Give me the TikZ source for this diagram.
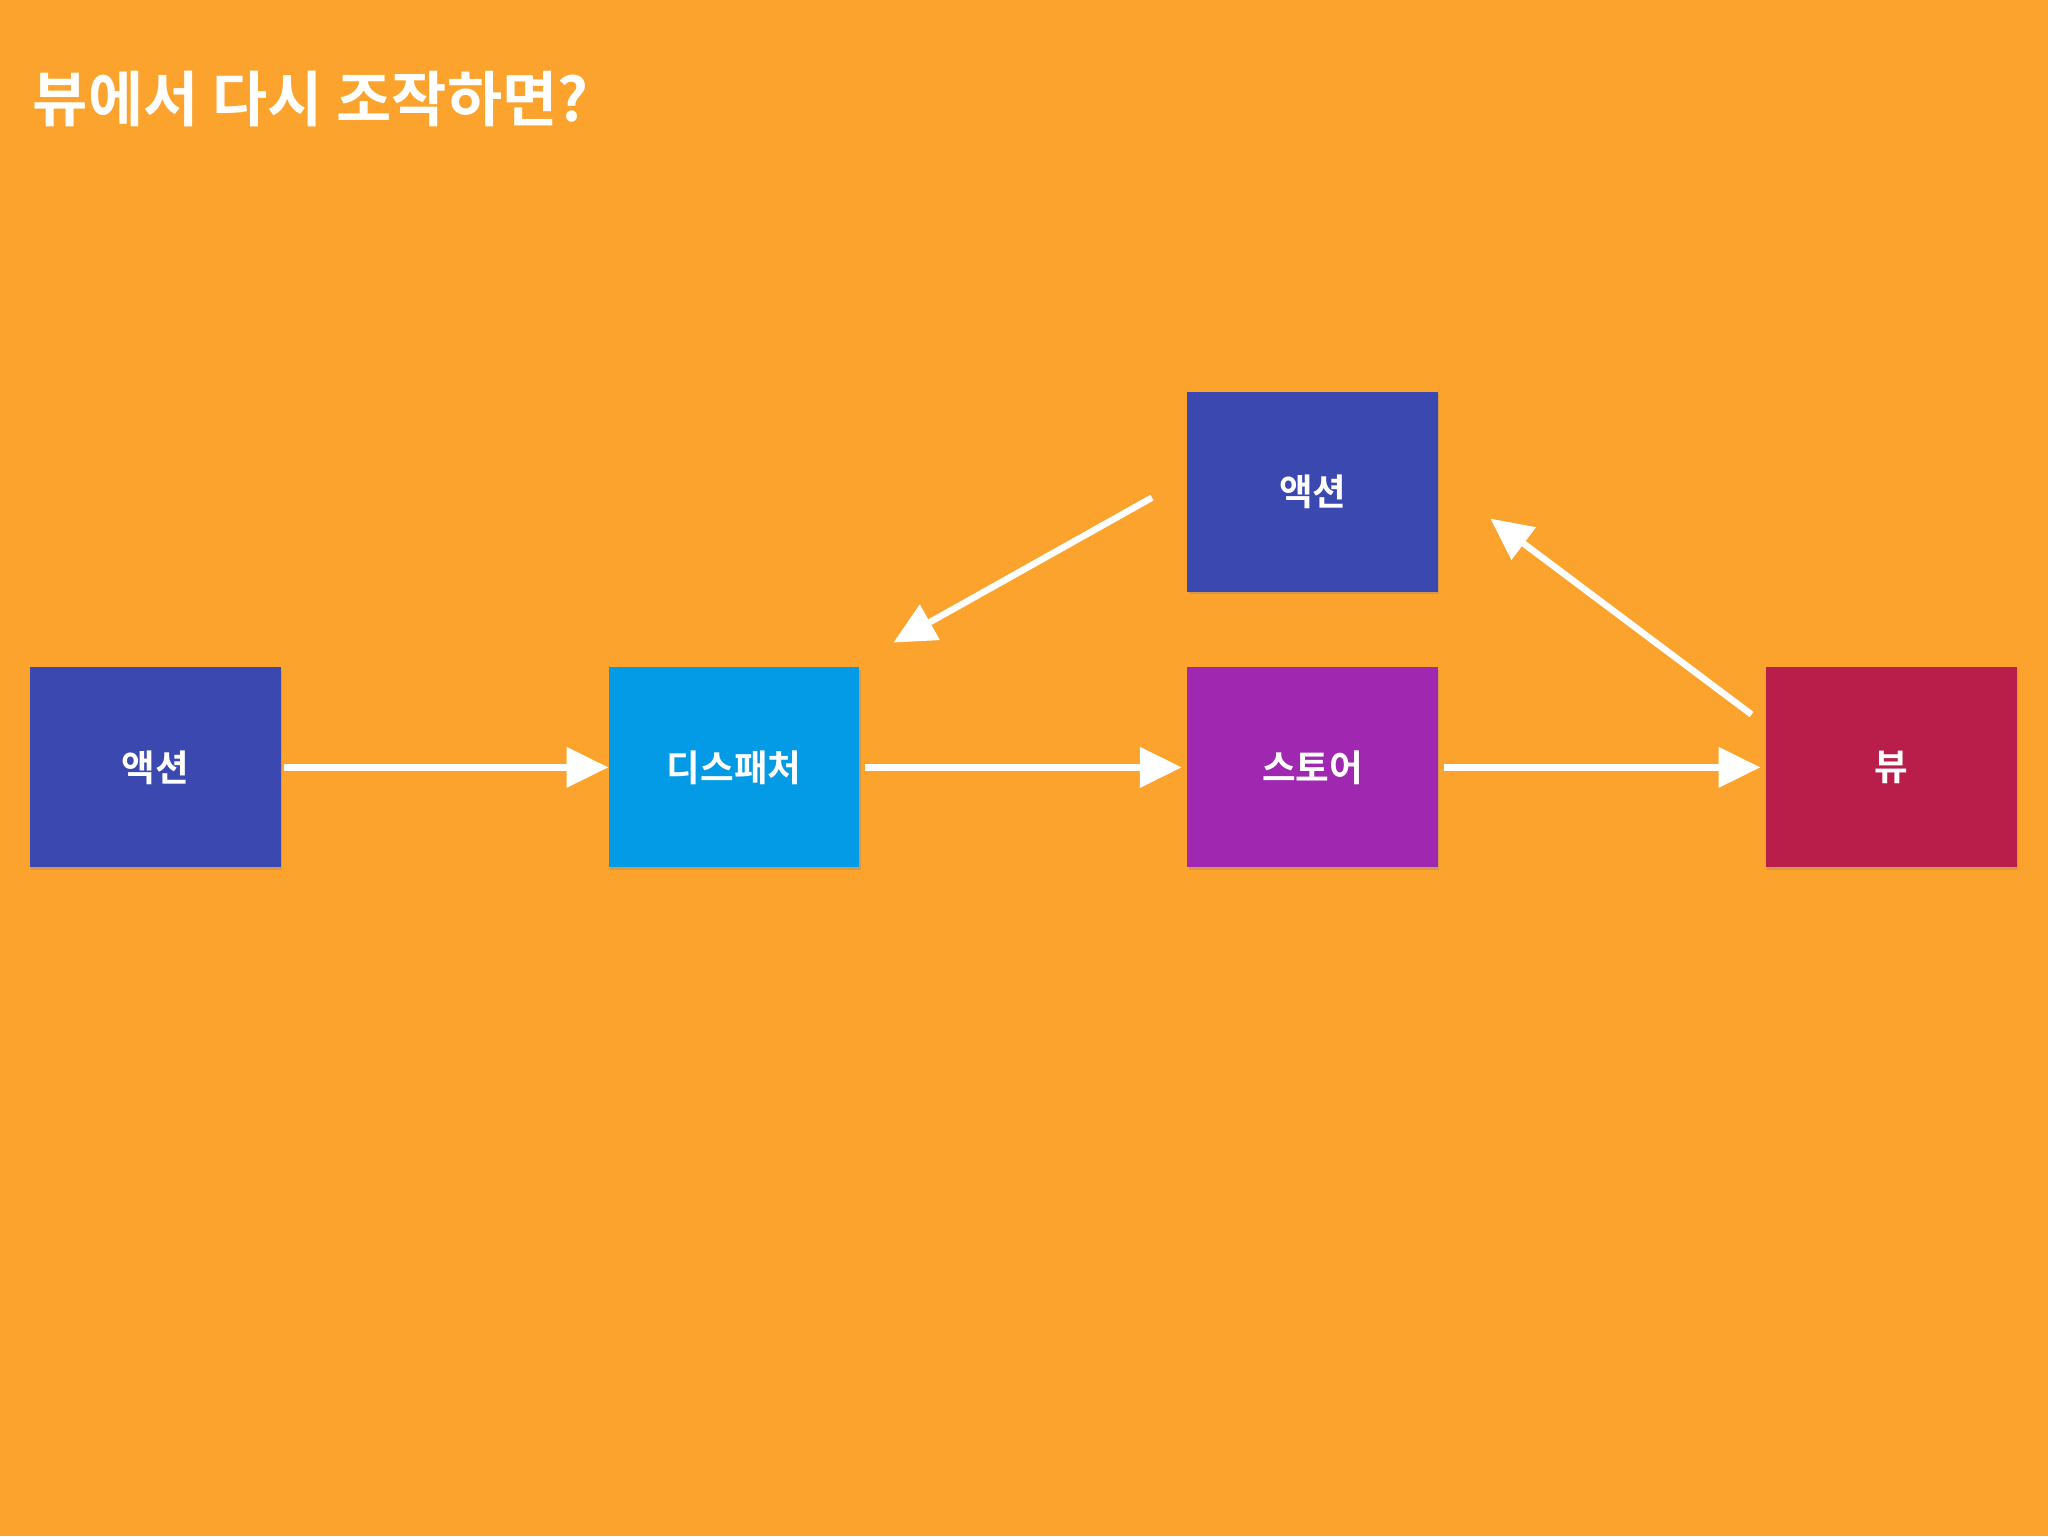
\documentclass[tikz,border=0pt]{standalone}
\usepackage{fontspec}
\newfontfamily\kr{Noto Sans CJK KR}[BoldFont={* Bold}]
\usetikzlibrary{arrows.meta,shadows}
\definecolor{bg}{HTML}{FBA32D}
\definecolor{act}{HTML}{3B48B0}
\definecolor{disp}{HTML}{039BE5}
\definecolor{stor}{HTML}{A027B0}
\definecolor{vw}{HTML}{B91E4B}
\tikzset{
 box/.style={minimum width=192pt,minimum height=153pt,inner sep=0pt,text=white,
   font=\kr\bfseries\fontsize{28}{30}\selectfont,
   drop shadow={shadow xshift=1pt,shadow yshift=-2pt,opacity=0.3}},
 arr/.style={draw=white,line width=5pt,-{Triangle[length=32pt,width=30pt]}}
}
\begin{document}
\begin{tikzpicture}[x=1pt,y=-1pt]
\fill[bg] (0,0) rectangle (1568,1176);
\node[anchor=base west,text=white,font=\kr\bfseries\fontsize{46}{50}\selectfont,inner sep=0pt] (title) at (25,93) {뷰에서 다시 조작하면?};
\node[box,fill=act] (a1) at (119,587.5) {액션};
\node[box,fill=disp] (d) at (562,587.5) {디스패처};
\node[box,fill=stor] (s) at (1005,587.5) {스토어};
\node[box,fill=vw] (v) at (1448,587.5) {뷰};
\node[box,fill=act] (a2) at (1005,376.5) {액션};
\coordinate (p1) at (882,381);
\coordinate (q1) at (684,492);
\coordinate (p2) at (1341,547);
\coordinate (q2) at (1141,397);
\draw[arr] (a1.east) ++(2,0) -- (d.west);
\draw[arr] (d.east) ++(4,0) -- ([xshift=-4pt]s.west);
\draw[arr] (s.east) ++(4,0) -- ([xshift=-4pt]v.west);
\draw[arr] (p1) -- (q1);
\draw[arr] (p2) -- (q2);
\end{tikzpicture}
\end{document}
